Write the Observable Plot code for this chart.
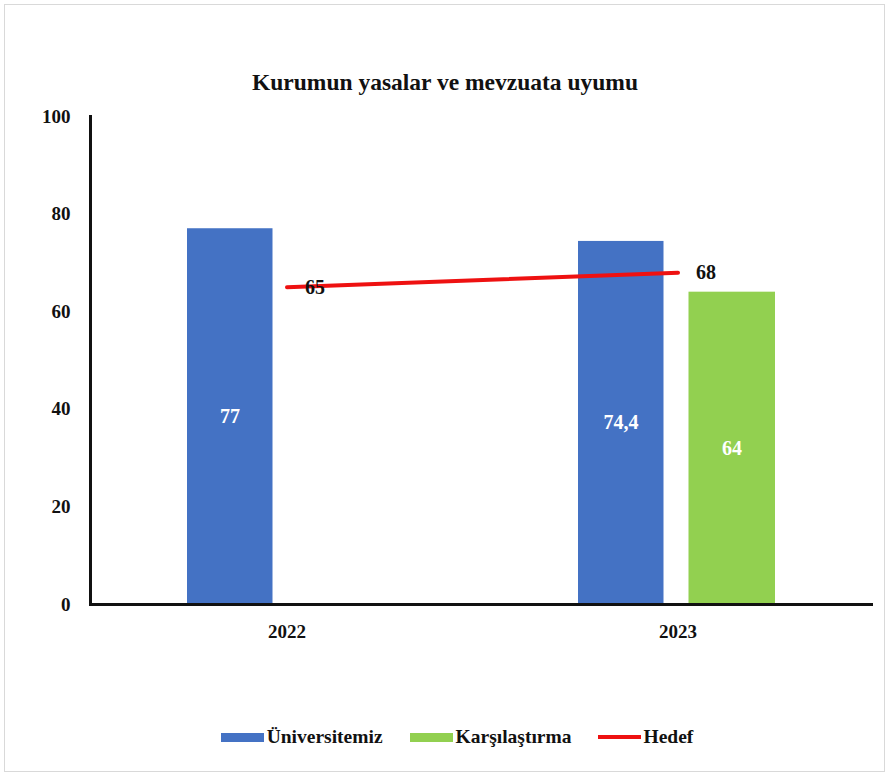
<!DOCTYPE html>
<html>
<head>
<meta charset="utf-8">
<script src="https://cdn.jsdelivr.net/npm/d3@7"></script>
<script src="https://cdn.jsdelivr.net/npm/@observablehq/plot@0.6"></script>
<style>
  html, body { margin: 0; padding: 0; background: #fff; }
  #wrap { position: relative; width: 890px; height: 777px; overflow: hidden; font-family: "Liberation Serif", "Times New Roman", serif; }
  #border { position: absolute; left: 4px; top: 4px; width: 881px; height: 768px; border: 1.5px solid #d9d9d9; box-sizing: border-box; }
  #title { position: absolute; left: 0; width: 890px; top: 69px; text-align: center; font-weight: bold; font-size: 23.5px; color: #111; }
  #chart { position: absolute; left: 0; top: 100px; }
  #legend { position: absolute; top: 726px; left: 12px; width: 890px; display: flex; justify-content: center; gap: 27px; font-weight: bold; font-size: 19.5px; color: #111; align-items: center; }
  .item { display: flex; align-items: center; }
  .sw { display: inline-block; width: 43px; height: 9px; margin-right: 3px; }
  .ln { display: inline-block; width: 43px; height: 4px; margin-right: 2px; }
</style>
</head>
<body>
<div id="wrap">
  <div id="border"></div>
  <div id="title">Kurumun yasalar ve mevzuata uyumu</div>
  <div id="chart"></div>
  <div id="legend"></div>
</div>
<script>
const years = ["2022", "2023"];
const universitemiz = [77, 74.4];
const karsilastirmaYears = ["2023"];
const karsilastirma = [64];
const hedef = [65, 68];
const seriesNames = ["Üniversitemiz", "Karşılaştırma", "Hedef"];
const colors = ["#4472C4", "#92D050", "#EE1111"];
const yTicks = [0, 20, 40, 60, 80, 100];

const fmt = v => String(v).replace(".", ",");
const uniData = years.map((y, i) => ({year: y, value: universitemiz[i]}));
const karData = karsilastirmaYears.map((y, i) => ({year: y, value: karsilastirma[i]}));
const hedefData = years.map((y, i) => ({year: y, value: hedef[i]}));

const font = "Liberation Serif, Times New Roman, serif";

const plot = Plot.plot({
  width: 890,
  height: 560,
  marginLeft: 90,
  marginRight: 17,
  marginTop: 16,
  marginBottom: 56,
  style: {fontFamily: font, fontSize: "19px", fontWeight: "bold", color: "#111", background: "transparent"},
  x: {domain: years, padding: 0, label: null, tickSize: 0, tickPadding: 20},
  y: {domain: [0, 100], ticks: yTicks, label: null, tickSize: 0, tickPadding: 20},
  marks: [
    Plot.barY(uniData, {x: "year", y: "value", fill: colors[0], insetLeft: 96, insetRight: 209.5}),
    Plot.barY(karData, {x: "year", y: "value", fill: colors[1], insetLeft: 206.5, insetRight: 98}),
    Plot.text(uniData, {x: "year", y: d => d.value / 2, text: d => fmt(d.value), dx: -57, fill: "white", fontSize: 20}),
    Plot.text(karData, {x: "year", y: d => d.value / 2, text: d => fmt(d.value), dx: 54, fill: "white", fontSize: 20}),
    Plot.lineY(hedefData, {x: "year", y: "value", stroke: colors[2], strokeWidth: 4}),
    Plot.text(hedefData, {x: "year", y: "value", text: d => fmt(d.value), dx: 28, fill: "#111", fontSize: 20}),
    Plot.ruleY([0], {stroke: "#111", strokeWidth: 3}),
    Plot.frame({anchor: "left", stroke: "#111", strokeWidth: 3})
  ]
});
document.getElementById("chart").appendChild(plot);

const legend = document.getElementById("legend");
seriesNames.forEach((name, i) => {
  const item = document.createElement("div");
  item.className = "item";
  const sw = document.createElement("span");
  sw.className = i === 2 ? "ln" : "sw";
  sw.style.background = colors[i];
  item.appendChild(sw);
  const t = document.createElement("span");
  t.textContent = name;
  item.appendChild(t);
  legend.appendChild(item);
});
</script>
</body>
</html>
